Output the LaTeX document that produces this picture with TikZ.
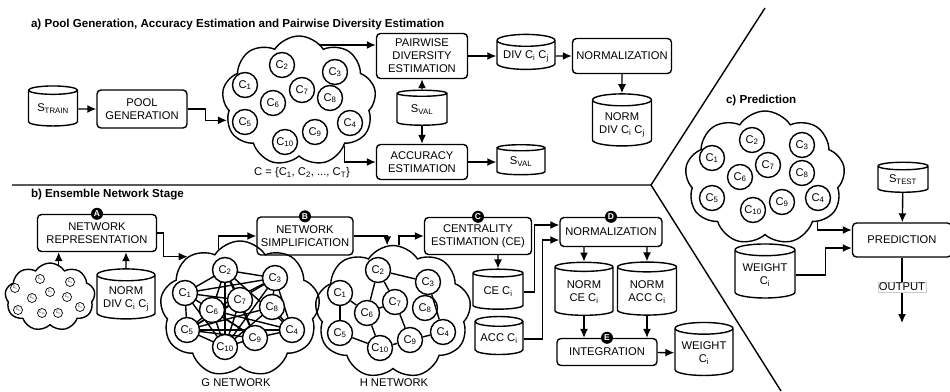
\documentclass[tikz,border=0pt]{standalone}
\usepackage{fontspec}
\setmainfont{Liberation Sans}
\usetikzlibrary{shapes.geometric,shapes.symbols,arrows.meta,calc}
\newcommand{\cls}[1]{C\textsubscript{#1}}
\newcommand{\dbtxt}[1]{\raisebox{-6pt}{\begin{tabular}{@{}c@{}}#1\end{tabular}}}

\begin{document}
\begin{tikzpicture}[x=1pt,y=-1pt,line width=1.4pt,>={Latex[length=9pt,width=8pt]},
  font=\fontsize{11.2}{13}\selectfont,
  box/.style={draw,rounded corners=4pt,align=center,inner sep=2pt},
  db/.style={draw,cylinder,shape border rotate=90,aspect=0.25,inner sep=1pt},
  pool/.style={draw,cloud,cloud puffs=9,cloud puff arc=115,cloud ignores aspect,inner sep=0pt},
  clf/.style={draw,circle,fill=white,minimum size=25pt,inner sep=0pt},
  tinyclf/.style={draw,circle,line width=0.7pt,minimum size=9pt,inner sep=0pt,font=\fontsize{3.5}{4}\selectfont},
  badge/.style={circle,fill=black,text=white,inner sep=0pt,minimum size=12pt,font=\bfseries\fontsize{8.5}{8.5}\selectfont},
  stage/.style={anchor=west,font=\bfseries\fontsize{11.6}{13}\selectfont},
  outlbl/.style={fill=white,draw=gray!40,line width=0.4pt,inner sep=1pt}]
\useasboundingbox (0,0) rectangle (950,391);

% stage a
\node[stage] at (27,24) {a) Pool Generation, Accuracy Estimation and Pairwise Diversity Estimation};
\node[db,minimum width=49,minimum height=40] (strain) at (53,109) {\dbtxt{S\textsubscript{TRAIN}}};
\node[box,minimum width=90,minimum height=38] (poolgen) at (142,109) {POOL\\GENERATION};
\node[pool,minimum width=154,minimum height=130] (cloudA) at (299,101) {};
\foreach \n/\x/\y in {1/245/85,2/282/65,3/335/72,4/350/123,5/245/122,6/273/103,7/302/90,8/330/98,9/315/132,10/285/142}
  \node[clf] (a\n) at (\x,\y) {\cls{\n}};
\node at (302,173) {C = \{\cls{1}, \cls{2}, ..., \cls{T}\}};
\node[box,minimum width=91,minimum height=45] (pde) at (422,56) {PAIRWISE\\DIVERSITY\\ESTIMATION};
\node[db,minimum width=50,minimum height=35] (svalmid) at (422,110) {\dbtxt{S\textsubscript{VAL}}};
\node[box,minimum width=91,minimum height=35] (acc) at (422,162) {ACCURACY\\ESTIMATION};
\node[db,minimum width=48,minimum height=30] (svalout) at (521,162) {\dbtxt{S\textsubscript{VAL}}};
\node[db,minimum width=58,minimum height=35] (divcc) at (526,56) {\dbtxt{DIV \cls{i} \cls{j}}};
\node[box,minimum width=99,minimum height=35] (norma) at (622,56) {NORMALIZATION};
\node[db,minimum width=59,minimum height=52] (normdiv) at (622,124) {\dbtxt{NORM\\DIV \cls{i} \cls{j}}};
\draw[->] (strain) -- (poolgen);
\draw[->] (poolgen.east) -- ++(18,0) |- (cloudA.195);
\draw[->] (cloudA.70) |- ($(pde.west)+(0,-11)$);
\draw[->] (cloudA.-45) |- (acc.west);
\draw[->] (svalmid) -- (pde);
\draw[->] (svalmid) -- (acc);
\draw[->] (acc) -- (svalout);
\draw[->] (pde) -- (divcc);
\draw[->] (divcc) -- (norma);
\draw[->] (norma) -- (normdiv);

\draw (12,185) -- (651,185) -- (765,8);
\draw (651,185) -- (781,391);

% stage c
\node[stage] at (722,100) {c) Prediction};
\node[pool,minimum width=160,minimum height=134] (cloudC) at (765,178) {};
\foreach \n/\x/\y in {1/712/158,2/752/140,3/802/145,4/818/198,5/712/198,6/740/177,7/768/165,8/802/173,9/782/202,10/753/210}
  \node[clf] (c\n) at (\x,\y) {\cls{\n}};
\node[db,minimum width=50,minimum height=30] (stest) at (903,180) {\dbtxt{S\textsubscript{TEST}}};
\node[box,minimum width=99,minimum height=34] (pred) at (902,240) {PREDICTION};
\node[db,minimum width=60,minimum height=54] (weightc) at (765,275) {\dbtxt{WEIGHT\\\cls{i}}};
\coordinate (out) at (902,323);
\draw[->] (stest) -- (pred);
\draw[->] (cloudC.-40) |- ($(pred.west)+(0,-10)$);
\draw[->] (weightc.east) -- ++(30,0) |- ($(pred.west)+(0,8)$);
\draw[->] (pred) -- (out) node[pos=0.45,outlbl] {OUTPUT};

% stage b
\node[stage] at (27,195) {b) Ensemble Network Stage};
\node[box,minimum width=119,minimum height=37] (netrep) at (97,233) {NETWORK\\REPRESENTATION};
\node[badge] at (netrep.north) {A};
\node[pool,minimum width=90,minimum height=68] (tiny) at (50,297) {};
\foreach \n/\x/\y in {1/15/288,2/40/279,3/70/282,4/80/307,5/18/310,6/32/298,7/50/292,8/67/297,9/58/313,10/42/313}
  \node[tinyclf] (t\n) at (\x,\y) {\cls{\n}};
\node[db,minimum width=58,minimum height=50] (normdivb) at (126,298) {\dbtxt{NORM\\DIV \cls{i} \cls{j}}};
\draw[->] (tiny.75) -- (tiny.75 |- netrep.south);
\draw[->] (normdivb) -- (normdivb |- netrep.south);

\node[pool,minimum width=160,minimum height=136] (gcloud) at (240,309) {};
\foreach \n/\x/\y in {1/185/293,2/225/270,3/275/278,4/292/330,5/187/330,6/212/310,7/240/300,8/272/307,9/255/338,10/225/347}
  \coordinate (gp\n) at (\x,\y);
\foreach \i/\j in {2/3,2/1,2/6,2/7,2/10,2/9,2/4,1/3,1/5,1/7,1/10,1/9,3/8,3/4,3/6,3/5,3/10,6/5,6/10,6/4,6/9,7/9,7/5,7/10,8/4,8/5,8/10,5/10,5/9,5/4,10/9,9/4}
  \draw (gp\i) -- (gp\j);
\foreach \n in {1,...,10}
  \node[clf] (g\n) at (gp\n) {\cls{\n}};
\node at (236,383) {G NETWORK};
\draw[->] (netrep.east) -- ++(6,0) |- (gcloud.135);

\node[box,minimum width=96,minimum height=38] (simp) at (305,236) {NETWORK\\SIMPLIFICATION};
\node[badge] at (simp.north) {B};
\draw[->] (gcloud.110) |- (simp.west);

\node[pool,minimum width=156,minimum height=133] (hcloud) at (393,312) {};
\foreach \n/\x/\y in {1/340/293,2/378/270,3/428/282,4/443/332,5/340/333,6/367/313,7/395/302,8/425/308,9/410/340,10/380/348}
  \node[clf] (h\n) at (\x,\y) {\cls{\n}};
\foreach \i/\j in {2/3,2/6,2/7,1/6,1/5,6/7,6/10,5/10,10/9,7/9,9/4,3/4}
  \draw (h\i) -- (h\j);
\node at (394,383) {H NETWORK};
\draw[->] (simp.east) -| (hcloud.95);

\node[box,minimum width=107,minimum height=37] (ce) at (478,236) {CENTRALITY\\ESTIMATION (CE)};
\node[badge] at (ce.north) {C};
\draw[->] (hcloud.85) |- (ce.west);
\node[db,minimum width=50,minimum height=40] (cec) at (498,292) {\dbtxt{CE \cls{i}}};
\node[db,minimum width=48,minimum height=38] (accc) at (499,339) {\dbtxt{ACC \cls{i}}};
\draw[->] (cec |- ce.south) -- (cec);

\node[box,minimum width=102,minimum height=29] (normb) at (611,232) {NORMALIZATION};
\node[badge] at (normb.north) {D};
\draw[->] (cec.east) -- ++(11,0) |- ($(normb.west)+(0,-7)$);
\draw[->] (accc.east) -- ++(19,0) |- ($(normb.west)+(0,8)$);
\node[db,minimum width=58,minimum height=53] (normcec) at (584,292) {\dbtxt{NORM\\CE \cls{i}}};
\node[db,minimum width=59,minimum height=53] (normaccc) at (647,292) {\dbtxt{NORM\\ACC \cls{i}}};
\draw[->] (normcec |- normb.south) -- (normcec);
\draw[->] (normaccc |- normb.south) -- (normaccc);

\node[box,minimum width=100,minimum height=27] (integ) at (607,352) {INTEGRATION};
\node[badge] at (integ.north) {E};
\draw[->] (normcec) -- (normcec |- integ.north);
\draw[->] (normaccc) -- (normaccc |- integ.north);
\node[db,minimum width=58,minimum height=53] (weightb) at (704,353) {\dbtxt{WEIGHT\\\cls{i}}};
\draw[->] (integ) -- (weightb);
\end{tikzpicture}
\end{document}
